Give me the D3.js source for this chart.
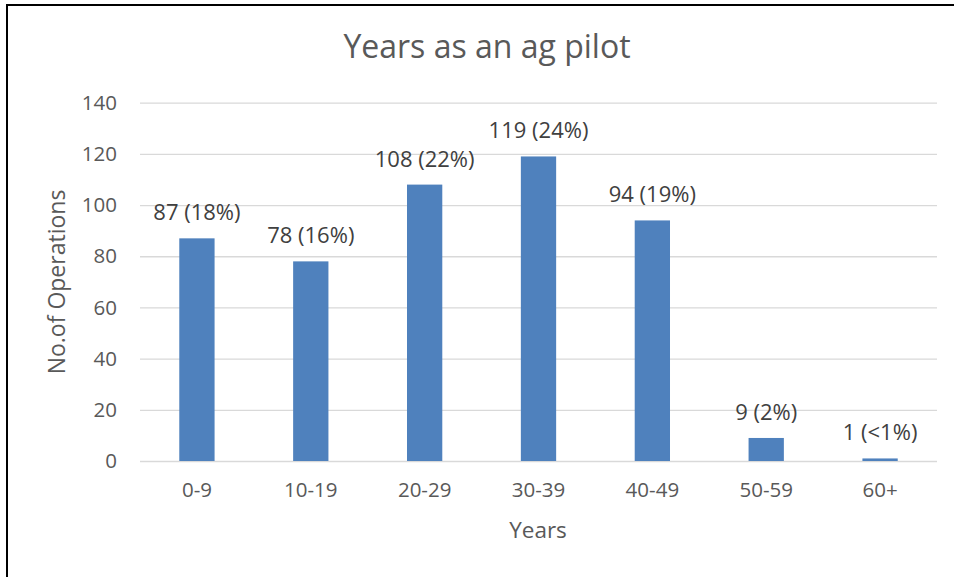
<!DOCTYPE html>
<html><head><meta charset="utf-8">
<script src="https://cdn.jsdelivr.net/npm/d3@7"></script>
<style>body{margin:0;background:#fff}svg{display:block}</style>
</head><body>
<script>
const categories = ["0-9","10-19","20-29","30-39","40-49","50-59","60+"];
const values = [87,78,108,119,94,9,1];
const dataLabels = ["87 (18%)","78 (16%)","108 (22%)","119 (24%)","94 (19%)","9 (2%)","1 (<1%)"];
const yTicks = [0,20,40,60,80,100,120,140];

(function(){
const W=954,H=577;
const font = "'Open Sans', sans-serif";
const svg=d3.select("body").append("svg").attr("width",W).attr("height",H);
svg.append("rect").attr("width",W).attr("height",H).attr("fill","#fff");
svg.append("path").attr("d",`M7,${H} V5 H${W}`).attr("fill","none").attr("stroke","#000").attr("stroke-width",2);

const pL=140,pR=937,pT=102.7,pB=461;
const x=d3.scaleBand().domain(categories).range([pL,pR]).padding(0);
const y=d3.scaleLinear().domain([0,140]).range([pB,pT]);
const bw=x.bandwidth()*0.31;

const g=svg.append("g");
const yAxis=d3.axisLeft(y).tickValues(yTicks).tickSize(-(pR-pL)).tickPadding(23);
const ya=g.append("g").attr("transform",`translate(${pL},0)`).call(yAxis);
ya.select(".domain").remove();
ya.selectAll(".tick line").attr("stroke","#d9d9d9").attr("stroke-width",1.3);
ya.selectAll(".tick text").attr("fill","#595959").style("font-family",font).style("font-size","20.5px");

const xAxis=d3.axisBottom(x).tickSize(0).tickPadding(21);
const xa=g.append("g").attr("transform",`translate(0,${pB})`).call(xAxis);
xa.select(".domain").remove();
xa.selectAll(".tick text").attr("fill","#595959").style("font-family",font).style("font-size","20.5px");

g.selectAll("rect.bar").data(values).join("rect").attr("class","bar")
 .attr("x",(d,i)=>x(categories[i])+x.bandwidth()/2-bw/2)
 .attr("width",bw)
 .attr("y",d=>y(d)).attr("height",d=>pB-y(d))
 .attr("fill","#4f81bd");

g.selectAll("text.lbl").data(values).join("text").attr("class","lbl")
 .attr("x",(d,i)=>x(categories[i])+x.bandwidth()/2)
 .attr("y",d=>y(d)-18)
 .attr("text-anchor","middle").attr("fill","#404040")
 .style("font-family",font).style("font-size","22px")
 .text((d,i)=>dataLabels[i]);

svg.append("text").attr("x",487).attr("y",58).attr("text-anchor","middle")
 .attr("fill","#595959").style("font-family",font).style("font-size","32px").text("Years as an ag pilot");
svg.append("text").attr("x",538).attr("y",538).attr("text-anchor","middle")
 .attr("fill","#595959").style("font-family",font).style("font-size","22.5px").text("Years");
svg.append("text").attr("transform","translate(65,282) rotate(-90)").attr("text-anchor","middle")
 .attr("fill","#595959").style("font-family",font).style("font-size","23px").text("No.of Operations");
})();
</script>
</body></html>
